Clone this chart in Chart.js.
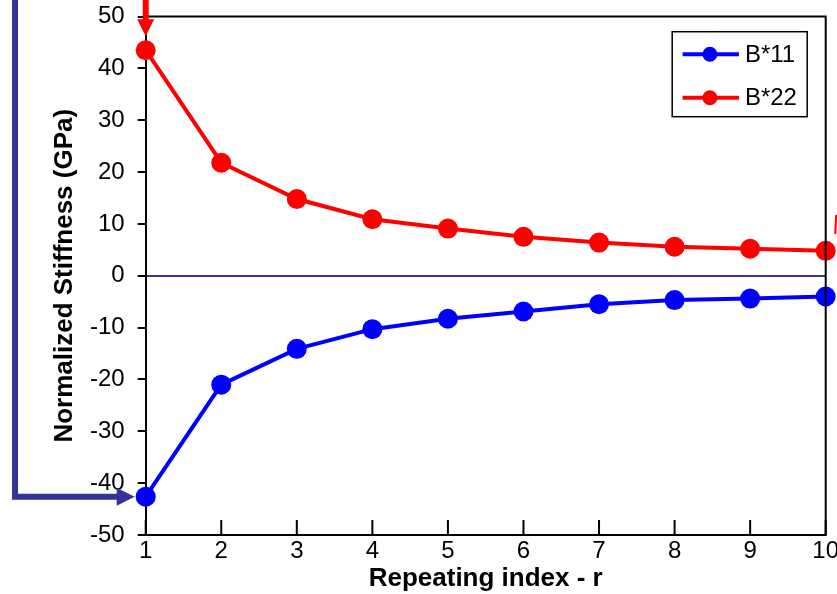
<!DOCTYPE html>
<html>
<head>
<meta charset="utf-8">
<script src="https://cdn.jsdelivr.net/npm/chart.js@4.4.0/dist/chart.umd.min.js"></script>
<style>
  html, body { margin: 0; padding: 0; background: #fff; }
</style>
</head>
<body>
<canvas id="stiffnessChart" width="837" height="594"></canvas>
<script>
// Data
const repeatIndex = ['1', '2', '3', '4', '5', '6', '7', '8', '9', '10'];
const b11Values = [-42.6, -21.0, -14.1, -10.3, -8.3, -6.9, -5.5, -4.7, -4.4, -4.0];
const b22Values = [43.5, 21.8, 14.8, 10.9, 9.1, 7.5, 6.4, 5.6, 5.2, 4.8];
const yMin = -50;
const yMax = 50;
const yStep = 10;

const FONT = "Arial, 'Liberation Sans', sans-serif";
const NAVY = '#333399';

// scales must not push the plot area around with their label overflow
function noScalePadding(scale) {
    scale.paddingTop = 0;
    scale.paddingBottom = 0;
    scale.paddingLeft = 0;
    scale.paddingRight = 0;
}

// inward x ticks + frame on top/right of plot area
const frameAndTicks = {
    id: 'frameAndTicks',
    afterDatasetsDraw(chart) {
        const { ctx, chartArea: a, scales } = chart;
        ctx.save();
        ctx.strokeStyle = '#000';
        ctx.lineWidth = 2;
        ctx.beginPath();
        ctx.moveTo(a.left, a.top);
        ctx.lineTo(a.right, a.top);
        ctx.lineTo(a.right, a.bottom + 1);
        ctx.stroke();
        const xs = scales.x;
        xs.ticks.forEach((t, i) => {
            const px = xs.getPixelForTick(i);
            ctx.beginPath();
            ctx.moveTo(px, a.bottom);
            ctx.lineTo(px, a.bottom - 15);
            ctx.stroke();
        });
        ctx.restore();
    }
};

// annotation arrows pointing at the first points
const arrows = {
    id: 'arrows',
    afterDraw(chart) {
        const { ctx } = chart;
        const blue = chart.getDatasetMeta(0).data[0];
        const red = chart.getDatasetMeta(1).data[0];
        const redLast = chart.getDatasetMeta(1).data[b22Values.length - 1];
        ctx.save();

        // navy elbow arrow to B*11
        ctx.strokeStyle = NAVY;
        ctx.fillStyle = NAVY;
        ctx.lineWidth = 6;
        ctx.lineJoin = 'miter';
        ctx.beginPath();
        ctx.moveTo(15, 0);
        ctx.lineTo(15, blue.y);
        ctx.lineTo(blue.x - 28, blue.y);
        ctx.stroke();
        ctx.beginPath();
        ctx.moveTo(blue.x - 11, blue.y);
        ctx.lineTo(blue.x - 29, blue.y - 9);
        ctx.lineTo(blue.x - 29, blue.y + 9);
        ctx.closePath();
        ctx.fill();

        // red arrow down to B*22
        ctx.strokeStyle = '#ff0000';
        ctx.fillStyle = '#ff0000';
        ctx.beginPath();
        ctx.moveTo(red.x, 0);
        ctx.lineTo(red.x, red.y - 30);
        ctx.stroke();
        ctx.beginPath();
        ctx.moveTo(red.x, red.y - 14);
        ctx.lineTo(red.x - 8.5, red.y - 31);
        ctx.lineTo(red.x + 8.5, red.y - 31);
        ctx.closePath();
        ctx.fill();

        // cut-off red mark at the right edge
        ctx.lineWidth = 2;
        ctx.beginPath();
        ctx.moveTo(redLast.x + 10.5, redLast.y - 36);
        ctx.lineTo(redLast.x + 9.5, redLast.y - 17);
        ctx.stroke();
        ctx.restore();
    }
};

// boxed legend in the upper right corner of the plot
const boxLegend = {
    id: 'boxLegend',
    afterDraw(chart) {
        const { ctx, chartArea: a } = chart;
        const boxR = a.right - 18.5;
        const boxL = boxR - 135;
        const boxT = a.top + 15.2;
        const boxH = 85;
        ctx.save();
        ctx.fillStyle = '#fff';
        ctx.fillRect(boxL, boxT, boxR - boxL, boxH);
        ctx.strokeStyle = '#000';
        ctx.lineWidth = 1.5;
        ctx.strokeRect(boxL, boxT, boxR - boxL, boxH);
        chart.data.datasets.forEach((ds, i) => {
            const y = boxT + 22.6 + i * 43.4;
            ctx.strokeStyle = ds.borderColor;
            ctx.lineWidth = 4;
            ctx.beginPath();
            ctx.moveTo(boxL + 10.4, y);
            ctx.lineTo(boxL + 66.7, y);
            ctx.stroke();
            ctx.fillStyle = ds.backgroundColor;
            ctx.beginPath();
            ctx.arc(boxL + 37.7, y, 7.5, 0, Math.PI * 2);
            ctx.fill();
            ctx.fillStyle = '#000';
            ctx.font = '24px ' + FONT;
            ctx.textBaseline = 'middle';
            ctx.fillText(ds.label, boxL + 72.7, y + 1);
        });
        ctx.restore();
    }
};

const chart = new Chart('stiffnessChart', {
    type: 'line',
    data: {
        labels: repeatIndex,
        datasets: [
            {
                label: 'B*11',
                data: b11Values,
                borderColor: '#0000ff',
                backgroundColor: '#0000ff',
                borderWidth: 4,
                pointRadius: 10,
                pointBorderWidth: 0,
                pointBackgroundColor: '#0000ff',
                tension: 0,
                clip: false
            },
            {
                label: 'B*22',
                data: b22Values,
                borderColor: '#ff0000',
                backgroundColor: '#ff0000',
                borderWidth: 4,
                pointRadius: 10,
                pointBorderWidth: 0,
                pointBackgroundColor: '#ff0000',
                tension: 0,
                clip: false
            }
        ]
    },
    options: {
        responsive: false,
        animation: false,
        devicePixelRatio: 1,
        layout: {
            autoPadding: false,
            padding: { top: 16.5, right: 11.3, left: 0, bottom: 0 }
        },
        plugins: {
            legend: { display: false },
            tooltip: { enabled: false }
        },
        scales: {
            x: {
                type: 'category',
                offset: false,
                grid: { display: true, drawOnChartArea: false, drawTicks: false },
                border: { display: true, color: '#000', width: 2 },
                ticks: {
                    color: '#000',
                    font: { family: FONT, size: 24 },
                    padding: 2,
                    maxRotation: 0,
                    autoSkip: false
                },
                title: {
                    display: true,
                    text: 'Repeating index - r',
                    color: '#000',
                    font: { family: FONT, size: 26, weight: 'bold' },
                    padding: { top: 0, bottom: 0 }
                },
                afterFit(scale) {
                    scale.height = 59;
                    noScalePadding(scale);
                }
            },
            y: {
                type: 'linear',
                min: yMin,
                max: yMax,
                ticks: {
                    stepSize: yStep,
                    color: '#000',
                    font: { family: FONT, size: 24 },
                    padding: 13
                },
                grid: {
                    drawOnChartArea: true,
                    color: ctx => (ctx.tick && ctx.tick.value === 0 ? NAVY : 'rgba(0,0,0,0)'),
                    lineWidth: 2,
                    tickColor: '#000',
                    tickLength: 8,
                    tickWidth: 2
                },
                border: { display: true, color: '#000', width: 2 },
                title: {
                    display: true,
                    text: 'Normalized Stiffness (GPa)',
                    color: '#000',
                    font: { family: FONT, size: 26, weight: 'bold' },
                    padding: { top: 49, bottom: 0 }
                },
                afterFit(scale) {
                    scale.width = 145.7;
                    noScalePadding(scale);
                }
            }
        }
    },
    plugins: [frameAndTicks, arrows, boxLegend]
});
</script>
</body>
</html>
